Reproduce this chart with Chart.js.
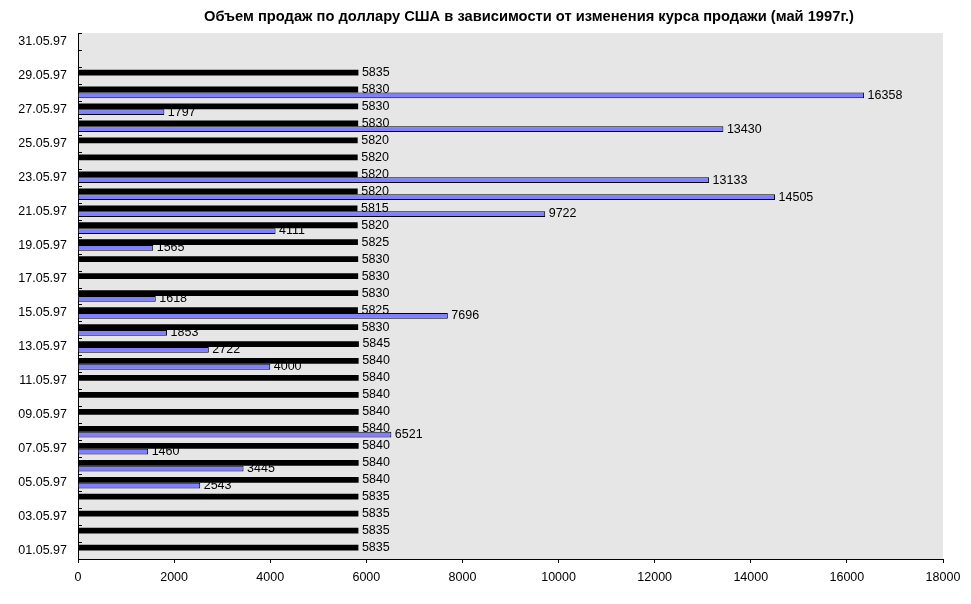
<!DOCTYPE html>
<html>
<head>
<meta charset="utf-8">
<script src="https://cdn.jsdelivr.net/npm/chart.js@4/dist/chart.umd.min.js"></script>
<style>
html,body{margin:0;padding:0;background:#fff;}
#wrap{width:971px;height:604px;position:relative;}
</style>
</head>
<body>
<div id="wrap"><canvas id="c" width="971" height="604"></canvas></div>
<script>
const titleText = 'Объем продаж по доллару США в зависимости от изменения курса продажи (май 1997г.)';
const dates = ['01.05.97','02.05.97','03.05.97','04.05.97','05.05.97','06.05.97','07.05.97','08.05.97','09.05.97','10.05.97',
  '11.05.97','12.05.97','13.05.97','14.05.97','15.05.97','16.05.97','17.05.97','18.05.97','19.05.97','20.05.97',
  '21.05.97','22.05.97','23.05.97','24.05.97','25.05.97','26.05.97','27.05.97','28.05.97','29.05.97','30.05.97','31.05.97'];
const rateValues = [5835,5835,5835,5835,5840,5840,5840,5840,5840,5840,
  5840,5840,5845,5830,5825,5830,5830,5830,5825,5820,
  5815,5820,5820,5820,5820,5830,5830,5830,5835,null,null];
const volumeValues = [null,null,null,null,2543,3445,1460,6521,null,null,
  null,4000,2722,1853,7696,1618,null,null,1565,4111,
  9722,14505,13133,null,null,13430,1797,16358,null,null,null];
const xTicks = [0,2000,4000,6000,8000,10000,12000,14000,16000,18000];

const FONT = '"Liberation Sans", Arial, sans-serif';

const bgPlugin = {
  id:'bg',
  beforeDraw(chart){
    const {ctx, chartArea:a} = chart;
    ctx.save();
    ctx.fillStyle = '#e6e6e6';
    ctx.fillRect(a.left, a.top, a.right-a.left, a.bottom-a.top);
    ctx.restore();
  }
};

const titlePlugin = {
  id:'ttl',
  afterDraw(chart){
    const ctx = chart.ctx;
    ctx.save();
    ctx.font = 'bold 14.7px ' + FONT;
    ctx.fillStyle = '#000';
    ctx.textAlign = 'center';
    ctx.textBaseline = 'middle';
    ctx.fillText(titleText, 529, 16.5);
    ctx.restore();
  }
};

const labelPlugin = {
  id:'lbl',
  beforeDatasetsDraw(chart){
    const ctx = chart.ctx;
    ctx.save();
    ctx.font = '12.5px ' + FONT;
    ctx.fillStyle = '#000';
    ctx.textAlign = 'left';
    ctx.textBaseline = 'middle';
    chart.data.datasets.forEach((ds, di) => {
      const meta = chart.getDatasetMeta(di);
      meta.data.forEach((el, i) => {
        const v = ds.data[i];
        if (v === null || v === undefined) return;
        ctx.fillText(String(v), el.x + 3.5, el.y);
      });
    });
    ctx.restore();
  }
};

const yMarksPlugin = {
  id:'ymarks',
  afterDraw(chart){
    const ctx = chart.ctx;
    const a = chart.chartArea;
    const n = dates.length;
    const step = (a.bottom - a.top) / n;
    ctx.save();
    ctx.strokeStyle = '#000';
    ctx.lineWidth = 1;
    ctx.beginPath();
    for (let i = 0; i <= n; i++) {
      const py = Math.round(a.top + i*step) + 0.5;
      ctx.moveTo(a.left, py);
      ctx.lineTo(a.left + 4, py);
    }
    ctx.stroke();
    ctx.restore();
  }
};

new Chart(document.getElementById('c'), {
  type:'bar',
  data:{
    labels: dates,
    datasets:[
      {label:'Курс', data: rateValues, backgroundColor:'#000000', borderColor:'#000000', borderWidth:0,
       categoryPercentage:0.68, barPercentage:1.0},
      {label:'Объем', data: volumeValues, backgroundColor:'#7f7fff', borderColor:'#000000', borderWidth:1,
       categoryPercentage:0.68, barPercentage:1.0}
    ]
  },
  options:{
    indexAxis:'y',
    responsive:false,
    animation:false,
    devicePixelRatio:1,
    layout:{padding:{left:0,right:28,top:33,bottom:0}},
    plugins:{legend:{display:false}, title:{display:false}, tooltip:{enabled:false}},
    scales:{
      x:{
        min:0, max:18000,
        afterBuildTicks(s){ s.ticks = xTicks.map(v=>({value:v})); },
        afterFit(s){ s.height = 45; },
        grid:{drawOnChartArea:false, drawTicks:true, tickLength:4, color:'#000'},
        border:{display:true, color:'#000', width:1},
        ticks:{color:'#000', font:{family:FONT, size:12.5}, padding:7, maxRotation:0,
          callback(v){ return String(v); }}
      },
      y:{
        reverse:true,
        afterFit(s){ s.width = 78; },
        grid:{display:false},
        border:{display:true, color:'#000', width:1},
        ticks:{color:'#000', font:{family:FONT, size:12.5}, padding:3, autoSkip:false,
          callback(v, i){ return i % 2 === 0 ? dates[i] : ''; }}
      }
    }
  },
  plugins:[bgPlugin, labelPlugin, yMarksPlugin, titlePlugin]
});
</script>
</body>
</html>
